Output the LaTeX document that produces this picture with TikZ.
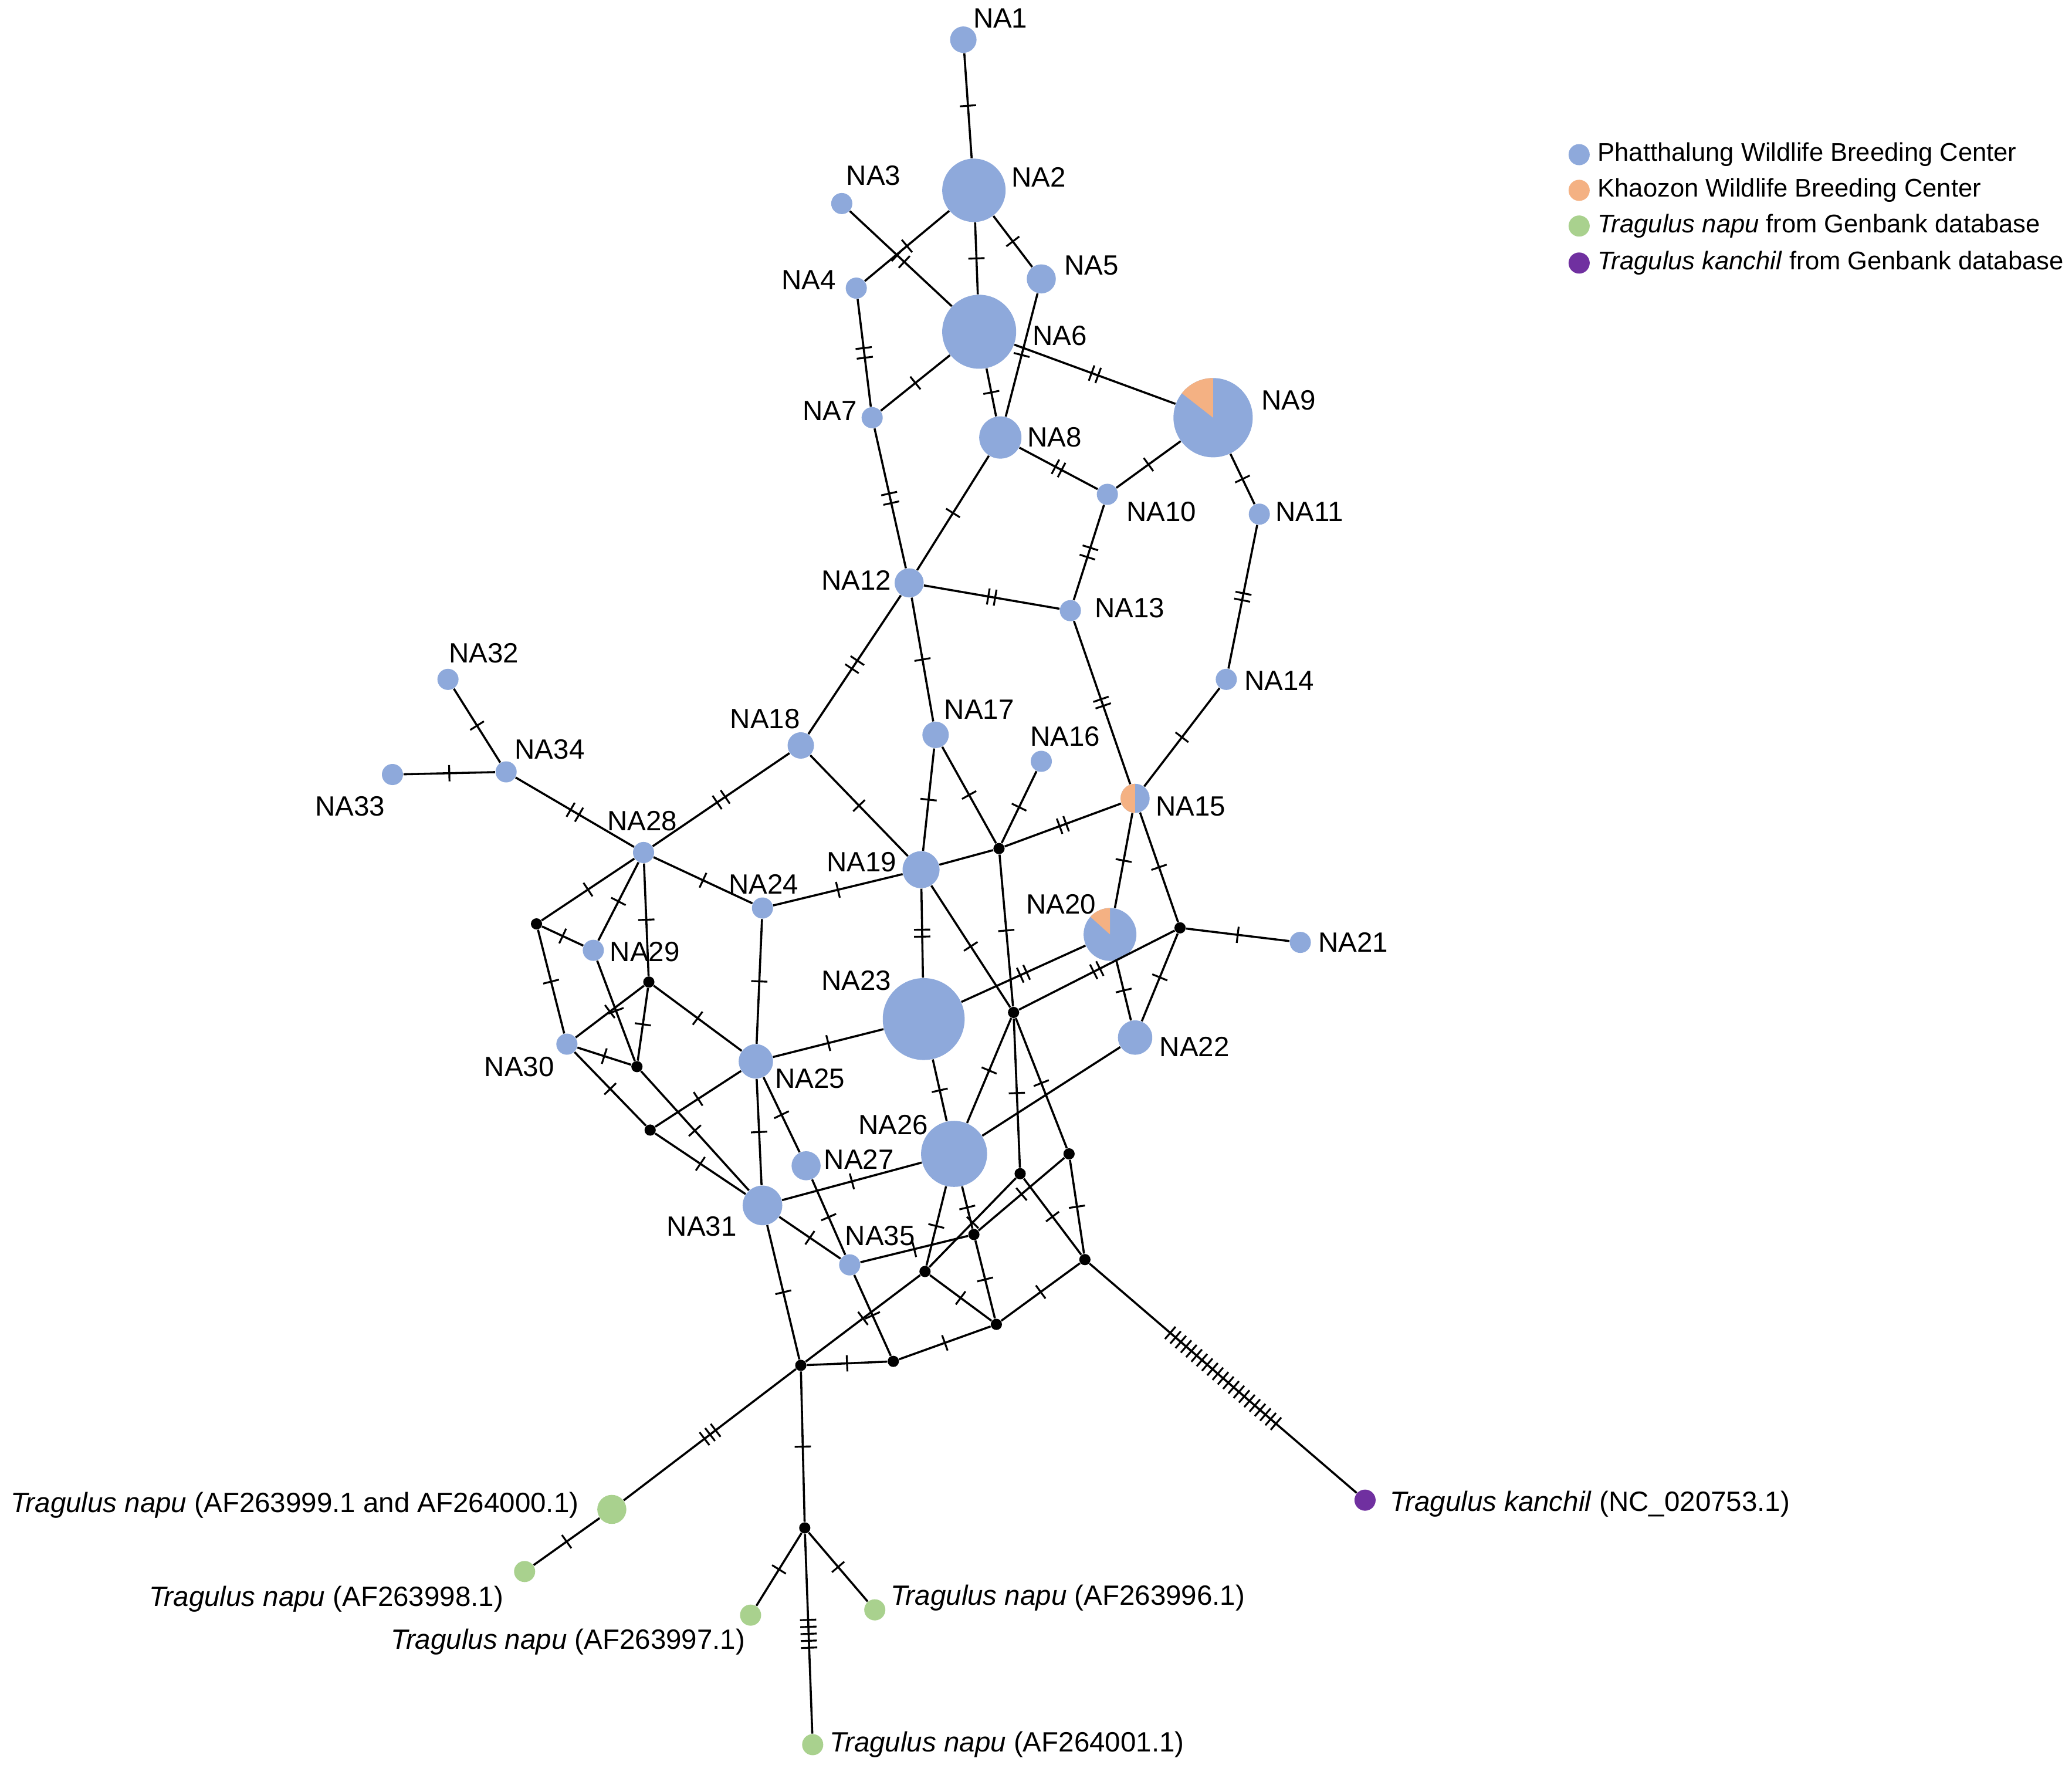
\documentclass[tikz,border=0pt]{standalone}
\usepackage{fontspec}
\setmainfont{Liberation Sans}
\usetikzlibrary{decorations.markings}
\definecolor{hb}{RGB}{142,169,219}
\definecolor{ho}{RGB}{244,177,131}
\definecolor{hg}{RGB}{169,209,142}
\definecolor{hp}{RGB}{112,48,160}
\begin{document}
\begin{tikzpicture}[x=0.02cm,y=-0.02cm,
  v/.style={circle,fill=hb,inner sep=0pt,minimum size={#1*0.04cm}},
  gv/.style={circle,fill=hg,inner sep=0pt,minimum size={#1*0.04cm}},
  m/.style={circle,fill=black,inner sep=0pt,minimum size=0.17cm},
  lb/.style={font=\fontsize{12}{14}\selectfont,inner sep=1pt},
  lg/.style={font=\fontsize{11}{13}\selectfont,inner sep=1pt,anchor=west},
  e/.style={line width=0.9pt},
  tk/.style={postaction={decorate,decoration={markings,mark=at position 0.5 with {\foreach \i in {1,...,#1}{\draw[line width=0.8pt] ({(\i-(#1+1)/2)*3pt},-3.5pt) -- ++(0,7pt);}}}}},
  tkd/.style={postaction={decorate,decoration={markings,mark=at position 0.5 with {\foreach \i in {1,...,#1}{\draw[line width=0.8pt] ({(\i-(#1+1)/2)*4.2pt},-3.5pt) -- ++(0,7pt);}}}}}
]
\useasboundingbox (0,0) rectangle (1568,1340.6);
% haplotype nodes
\node[v=10] (NA1) at (729,30) {};
\node[v=24] (NA2) at (737,144) {};
\node[v=8] (NA3) at (637,154) {};
\node[v=8] (NA4) at (648,218) {};
\node[v=11] (NA5) at (788,211) {};
\node[v=28] (NA6) at (741,251) {};
\node[v=8] (NA7) at (660,316) {};
\node[v=16] (NA8) at (757,331) {};
\node[v=30] (NA9) at (918,316) {};
\node[v=8] (NA10) at (838,374) {};
\node[v=8] (NA11) at (953,389) {};
\node[v=11] (NA12) at (688,441) {};
\node[v=8] (NA13) at (810,462) {};
\node[v=8] (NA14) at (928,514) {};
\node[v=11] (NA15) at (859,604) {};
\node[v=8] (NA16) at (788,576) {};
\node[v=10] (NA17) at (708,556) {};
\node[v=10] (NA18) at (606,564) {};
\node[v=14] (NA19) at (697,658) {};
\node[v=20] (NA20) at (840,707) {};
\node[v=8] (NA21) at (984,713) {};
\node[v=13] (NA22) at (859,785) {};
\node[v=31] (NA23) at (699,771) {};
\node[v=8] (NA24) at (577,687) {};
\node[v=13] (NA25) at (572,803) {};
\node[v=25] (NA26) at (722,873) {};
\node[v=11] (NA27) at (610,882) {};
\node[v=8] (NA28) at (487,645) {};
\node[v=8] (NA29) at (449,719) {};
\node[v=8] (NA30) at (429,790) {};
\node[v=15] (NA31) at (577,912) {};
\node[v=8] (NA32) at (339,514) {};
\node[v=8] (NA33) at (297,586) {};
\node[v=8] (NA34) at (383,584) {};
\node[v=8] (NA35) at (643,957) {};
% pie wedges
\fill[ho] (NA9.center) -- ++(90:0.6cm) arc[start angle=90,end angle=142,radius=0.6cm] -- cycle;
\fill[ho] (NA15.center) -- ++(90:0.22cm) arc[start angle=90,end angle=270,radius=0.22cm] -- cycle;
\fill[ho] (NA20.center) -- ++(90:0.4cm) arc[start angle=90,end angle=138,radius=0.4cm] -- cycle;
% median vectors
\node[m] (m1) at (756,642) {};
\node[m] (m2) at (893,702) {};
\node[m] (m3) at (406,699) {};
\node[m] (m4) at (491,743) {};
\node[m] (m5) at (482,807) {};
\node[m] (m6) at (492,855) {};
\node[m] (m7) at (767,766) {};
\node[m] (m8) at (809,873) {};
\node[m] (m9) at (772,888) {};
\node[m] (m10) at (737,934) {};
\node[m] (m11) at (700,962) {};
\node[m] (m12) at (821,953) {};
\node[m] (m13) at (754,1002) {};
\node[m] (m14) at (676,1030) {};
\node[m] (m15) at (606,1033) {};
\node[m] (m16) at (609,1156) {};
% outgroups
\node[gv=11] (G1) at (463,1142) {};
\node[gv=8] (G2) at (397,1189) {};
\node[gv=8] (G3) at (568,1222) {};
\node[gv=8] (G4) at (662,1218) {};
\node[gv=8] (G5) at (615,1320) {};
\node[circle,fill=hp,inner sep=0pt,minimum size=0.32cm] (P) at (1033,1135) {};
% edges
\draw[e,tk=1] (NA1)--(NA2);
\draw[e,tk=1] (NA2)--(NA6);
\draw[e,tk=1] (NA4)--(NA2);
\draw[e,tkd=2] (NA3)--(NA6);
\draw[e,tk=1] (NA2)--(NA5);
\draw[e,tk=1] (NA5)--(NA8);
\draw[e,tk=1] (NA6)--(NA8);
\draw[e,tk=1] (NA6)--(NA7);
\draw[e,tkd=2] (NA4)--(NA7);
\draw[e,tk=2] (NA6)--(NA9);
\draw[e,tk=2] (NA8)--(NA10);
\draw[e,tk=1] (NA9)--(NA10);
\draw[e,tk=1] (NA9)--(NA11);
\draw[e,tkd=2] (NA7)--(NA12);
\draw[e,tk=1] (NA8)--(NA12);
\draw[e,tkd=2] (NA10)--(NA13);
\draw[e,tk=2] (NA12)--(NA13);
\draw[e,tk=2] (NA11)--(NA14);
\draw[e,tk=1] (NA14)--(NA15);
\draw[e,tk=2] (NA13)--(NA15);
\draw[e,tkd=2] (NA12)--(NA18);
\draw[e,tk=1] (NA12)--(NA17);
\draw[e,tk=1] (NA17)--(NA19);
\draw[e,tk=1] (NA17)--(m1);
\draw[e,tk=1] (NA16)--(m1);
\draw[e,tk=2] (m1)--(NA15);
\draw[e] (NA19)--(m1);
\draw[e,tk=1] (NA18)--(NA19);
\draw[e,tkd=2] (NA18)--(NA28);
\draw[e,tkd=2] (NA28)--(NA34);
\draw[e,tk=1] (NA34)--(NA32);
\draw[e,tk=1] (NA34)--(NA33);
\draw[e,tk=1] (NA28)--(NA24);
\draw[e,tk=1] (NA24)--(NA19);
\draw[e,tk=1] (NA24)--(NA25);
\draw[e,tk=2] (NA19)--(NA23);
\draw[e,tk=1] (NA19)--(m7);
\draw[e,tk=1] (m1)--(m7);
\draw[e,tk=1] (m7)--(m9);
\draw[e,tk=1] (m7)--(m8);
\draw[e,tk=1] (m8)--(m12);
\draw[e,tk=1] (NA15)--(NA20);
\draw[e,tk=1] (NA15)--(m2);
\draw[e,tk=1] (m2)--(NA21);
\draw[e,tk=1] (m2)--(NA22);
\draw[e,tk=1] (NA20)--(NA22);
\draw[e,tk=2] (NA23)--(NA20);
\draw[e,tk=2] (m7)--(m2);
\draw[e,tk=1] (NA23)--(NA25);
\draw[e,tk=1] (NA23)--(NA26);
\draw[e] (NA22)--(NA26);
\draw[e,tk=1] (m7)--(NA26);
\draw[e,tk=1] (NA26)--(NA31);
\draw[e,tk=1] (NA26)--(m11);
\draw[e,tk=1] (NA26)--(m10);
\draw[e,tk=1] (m10)--(m13);
\draw[e,tk=1] (m8)--(m10);
\draw[e,tk=1] (m9)--(m11);
\draw[e,tk=1] (m9)--(m12);
\draw[e,tk=1] (m12)--(m13);
\draw[e,tk=1] (m11)--(m13);
\draw[e,tk=1] (m10)--(NA35);
\draw[e,tk=1] (m11)--(m15);
\draw[e,tk=1] (m13)--(m14);
\draw[e,tk=1] (m14)--(m15);
\draw[e,tk=1] (NA35)--(m14);
\draw[e,tk=1] (NA27)--(NA35);
\draw[e,tk=1] (NA25)--(NA27);
\draw[e,tk=1] (NA31)--(NA35);
\draw[e,tk=1] (NA31)--(m15);
\draw[e,tk=1] (NA25)--(NA31);
\draw[e,tk=1] (NA28)--(NA29);
\draw[e,tk=1] (NA28)--(m3);
\draw[e,tk=1] (m3)--(NA29);
\draw[e,tk=1] (m3)--(NA30);
\draw[e,tk=1] (NA28)--(m4);
\draw[e,tk=1] (m4)--(m5);
\draw[e,tk=1] (NA29)--(m5);
\draw[e,tk=1] (m4)--(NA30);
\draw[e,tk=1] (m4)--(NA25);
\draw[e,tk=1] (NA30)--(m5);
\draw[e,tk=1] (NA30)--(m6);
\draw[e,tk=1] (m6)--(NA25);
\draw[e,tk=1] (m5)--(NA31);
\draw[e,tk=1] (m6)--(NA31);
\draw[e,tk=3] (m15)--(G1);
\draw[e,tk=1] (G1)--(G2);
\draw[e,tk=1] (m15)--(m16);
\draw[e,tk=1] (m16)--(G3);
\draw[e,tk=1] (m16)--(G4);
\draw[e,tk=5] (m16)--(G5);
\draw[e,tk=21] (m12)--(P);
% labels
\node[lb] at (757,14) {NA1};
\node[lb] at (786,134) {NA2};
\node[lb] at (661,133) {NA3};
\node[lb] at (612,212) {NA4};
\node[lb] at (826,201) {NA5};
\node[lb] at (802,254) {NA6};
\node[lb] at (628,311) {NA7};
\node[lb] at (798,331) {NA8};
\node[lb] at (975,303) {NA9};
\node[lb] at (879,387) {NA10};
\node[lb] at (991,387) {NA11};
\node[lb] at (648,439) {NA12};
\node[lb] at (855,460) {NA13};
\node[lb] at (968,515) {NA14};
\node[lb] at (901,610) {NA15};
\node[lb] at (806,557) {NA16};
\node[lb] at (741,537) {NA17};
\node[lb] at (579,544) {NA18};
\node[lb] at (652,652) {NA19};
\node[lb] at (803,684) {NA20};
\node[lb] at (1024,713) {NA21};
\node[lb] at (904,792) {NA22};
\node[lb] at (648,742) {NA23};
\node[lb] at (578,669) {NA24};
\node[lb] at (613,816) {NA25};
\node[lb] at (676,851) {NA26};
\node[lb] at (650,877) {NA27};
\node[lb] at (486,621) {NA28};
\node[lb] at (488,720) {NA29};
\node[lb] at (393,807) {NA30};
\node[lb] at (531,928) {NA31};
\node[lb] at (366,494) {NA32};
\node[lb] at (265,610) {NA33};
\node[lb] at (416,567) {NA34};
\node[lb] at (666,935) {NA35};
\node[lb,anchor=east] at (440,1139) {\textit{Tragulus napu} (AF263999.1 and AF264000.1)};
\node[lb,anchor=east] at (383,1210) {\textit{Tragulus napu} (AF263998.1)};
\node[lb,anchor=east] at (566,1242) {\textit{Tragulus napu} (AF263997.1)};
\node[lb,anchor=west] at (672,1209) {\textit{Tragulus napu} (AF263996.1)};
\node[lb,anchor=west] at (626,1320) {\textit{Tragulus napu} (AF264001.1)};
\node[lb,anchor=west] at (1050,1138) {\textit{Tragulus kanchil} (NC\_020753.1)};
% legend
\node[v=8] (L1) at (1195,117) {};
\node[circle,fill=ho,inner sep=0pt,minimum size=0.32cm] (L2) at (1195,144) {};
\node[gv=8] (L3) at (1195,171) {};
\node[circle,fill=hp,inner sep=0pt,minimum size=0.32cm] (L4) at (1195,199) {};
\node[lg] at (1207,117) {Phatthalung Wildlife Breeding Center};
\node[lg] at (1207,144) {Khaozon Wildlife Breeding Center};
\node[lg] at (1207,171) {\textit{Tragulus napu} from Genbank database};
\node[lg] at (1207,199) {\textit{Tragulus kanchil} from Genbank database};
\end{tikzpicture}
\end{document}
